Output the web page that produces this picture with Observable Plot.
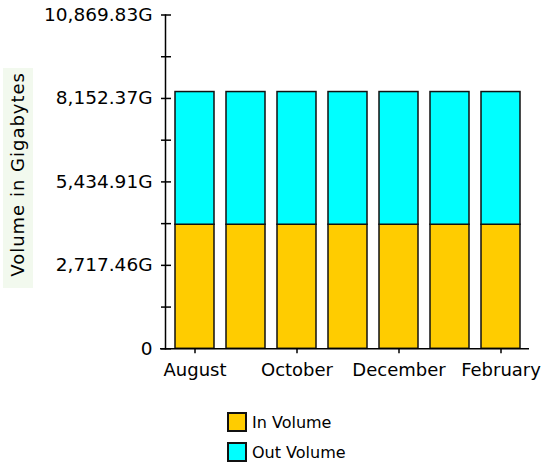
<!DOCTYPE html>
<html>
<head>
<meta charset="utf-8">
<script src="https://cdn.jsdelivr.net/npm/d3@7"></script>
<script src="https://cdn.jsdelivr.net/npm/@observablehq/plot@0.6"></script>
<style>
  html, body { margin: 0; padding: 0; background: #ffffff; }
  #wrap { position: relative; width: 547px; height: 468px; font-family: "DejaVu Sans", sans-serif; }
  #titlebg { position: absolute; left: 3px; top: 68px; width: 30px; height: 220px; background: #f2f9ee; }
  #chart { position: absolute; left: 0; top: 0; }
  #legend { position: absolute; left: 227px; top: 412px; font-size: 16px; color: #000; }
  .item { display: flex; align-items: center; height: 20px; margin-bottom: 10px; }
  .sw { width: 16px; height: 16px; border: 2px solid #111; box-sizing: content-box; margin-right: 5px; }
  .ytitle text { letter-spacing: 1px; }
</style>
</head>
<body>
<div id="wrap">
  <div id="titlebg"></div>
  <div id="chart"></div>
  <div id="legend"></div>
</div>
<script>
const months = ["August", "September", "October", "November", "December", "January", "February"];
const labeledMonths = ["August", "October", "December", "February"];
const inVolume = [4040, 4040, 4040, 4040, 4040, 4040, 4040];
const outVolume = [4321, 4321, 4321, 4321, 4321, 4321, 4321];
const seriesNames = ["In Volume", "Out Volume"];
const seriesColors = ["#ffcc00", "#00ffff"];
const yMax = 10869.83;
const yTickValues = [0, 2717.46, 5434.91, 8152.37, 10869.83];
const yTickLabels = ["0", "2,717.46G", "5,434.91G", "8,152.37G", "10,869.83G"];
const yMinorTicks = [1358.73, 4076.19, 6793.64, 9511.10];
const yTitle = "Volume in Gigabytes";

const data = [];
months.forEach((m, i) => {
  data.push({month: m, series: seriesNames[0], value: inVolume[i]});
  data.push({month: m, series: seriesNames[1], value: outVolume[i]});
});
const labelMap = new Map(yTickValues.map((v, i) => [v, yTickLabels[i]]));
const allYTicks = [...yTickValues, ...yMinorTicks];

const chart = Plot.plot({
  width: 547,
  height: 400,
  marginLeft: 166,
  marginRight: 18,
  marginTop: 14.5,
  marginBottom: 51.7,
  style: {fontFamily: "DejaVu Sans", fontSize: "16px", background: "transparent", color: "#000"},
  x: {domain: months, paddingInner: 0.23, paddingOuter: 0.115, axis: null, label: null},
  y: {domain: [0, yMax], axis: null, label: null},
  color: {domain: seriesNames, range: seriesColors},
  marks: [
    Plot.barY(data, {x: "month", y: "value", fill: "series", stroke: "#111", strokeWidth: 1.5}),
    Plot.frame({anchor: "left", dx: -1, strokeWidth: 1.5}),
    Plot.ruleY([0], {insetLeft: -6, strokeWidth: 1.5}),
    Plot.axisY(allYTicks, {label: null, tickSize: 10, dx: 5, tickPadding: 9, strokeWidth: 1.5, fontSize: 18.5, tickFormat: d => labelMap.get(d) ?? ""}),
    Plot.axisX(labeledMonths, {label: null, tickSize: 5, tickPadding: 9, fontSize: 18, strokeWidth: 1.5}),
    Plot.text([yTitle], {frameAnchor: "left", textAnchor: "middle", lineAnchor: "middle", rotate: -90, dx: -148.5, dy: -7.5, fontSize: 18, className: "ytitle"})
  ]
});
document.getElementById("chart").appendChild(chart);

const legend = document.getElementById("legend");
seriesNames.forEach((name, i) => {
  const item = document.createElement("div");
  item.className = "item";
  const sw = document.createElement("div");
  sw.className = "sw";
  sw.style.background = seriesColors[i];
  const label = document.createElement("span");
  label.textContent = name;
  item.appendChild(sw);
  item.appendChild(label);
  legend.appendChild(item);
});
</script>
</body>
</html>
